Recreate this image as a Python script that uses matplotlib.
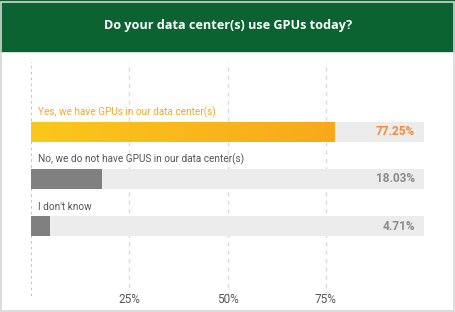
import numpy as np
import matplotlib.pyplot as plt
from matplotlib.patches import Rectangle
from matplotlib.colors import LinearSegmentedColormap

# survey answers and their shares (%)
answers = ['Yes, we have GPUs in our data center(s)',
           'No, we do not have GPUS in our data center(s)',
           "I don't know"]
shares = [77.25, 18.03, 4.71]
ticks = [25, 50, 75]
tick_labels = ['25%', '50%', '75%']
title = 'Do your data center(s) use GPUs today?'

plt.rcParams['font.family'] = ['Roboto', 'DejaVu Sans']

fig = plt.figure(figsize=(4.56, 3.12), dpi=100)

# header band and outer border
fig.patches.append(Rectangle((0, 1 - 51 / 312), 1, 51 / 312, transform=fig.transFigure,
                             color='#0b6332', zorder=0))
fig.patches.append(Rectangle((0.002, 0.004), 0.994, 0.99, transform=fig.transFigure,
                             fill=False, edgecolor='#d6d6d6', linewidth=1.2, zorder=1))
fig.text(0.5, 1 - 25 / 312, title, ha='center', va='center', color='white',
         fontsize=9.1, fontweight='bold', family=['Open Sans', 'DejaVu Sans'])

ax = fig.add_axes([31 / 456, 16 / 312, 393 / 456, 234 / 312])

# grid lines
ax.axvline(0, color='#b5b5b5', linestyle=(0, (1.5, 2)), linewidth=1.2, zorder=1)
for t in ticks:
    ax.axvline(t, color='#dcdcdc', linestyle=(0, (3, 3)), linewidth=1, zorder=1)

h = 0.42
y = np.arange(len(answers))
ax.barh(y, [100] * len(answers), height=h, color='#ececec', zorder=2)
colors = ['#f9bd1c', '#808080', '#808080']
bars = ax.barh(y, shares, height=h, color=colors, zorder=3)

# yellow-to-orange gradient on the first bar
b = bars[0]
grad = np.linspace(0, 1, 256).reshape(1, -1)
cmap = LinearSegmentedColormap.from_list('yo', ['#fac81b', '#f8a91c'])
im = ax.imshow(grad, cmap=cmap, aspect='auto', zorder=4,
               extent=[b.get_x(), b.get_x() + b.get_width(), b.get_y() + h, b.get_y()])
im.set_clip_path(b)
ax.set_xlim(0, 100)
ax.set_ylim(3.475, -1.473)

label_colors = ['#f5a623', '#555555', '#555555']
value_colors = ['#f5883c', '#8a8a8a', '#8a8a8a']
for i, (ans, val) in enumerate(zip(answers, shares)):
    ax.text(1.8, i - 0.415, ans, ha='left', va='center', fontsize=7.2,
            color=label_colors[i], zorder=5)
    ax.text(97.7, i, f'{val:.2f}%', ha='right', va='center', fontsize=8.5,
            color=value_colors[i], fontweight='bold', zorder=5)

ax.set_xticks(ticks)
ax.set_xticklabels(tick_labels, fontsize=8.5, color='#555555')
ax.tick_params(axis='x', length=0, pad=-2)
ax.set_yticks([])
for s in ax.spines.values():
    s.set_visible(False)
ax.patch.set_alpha(0)

fig.savefig('out.png', dpi=100)
